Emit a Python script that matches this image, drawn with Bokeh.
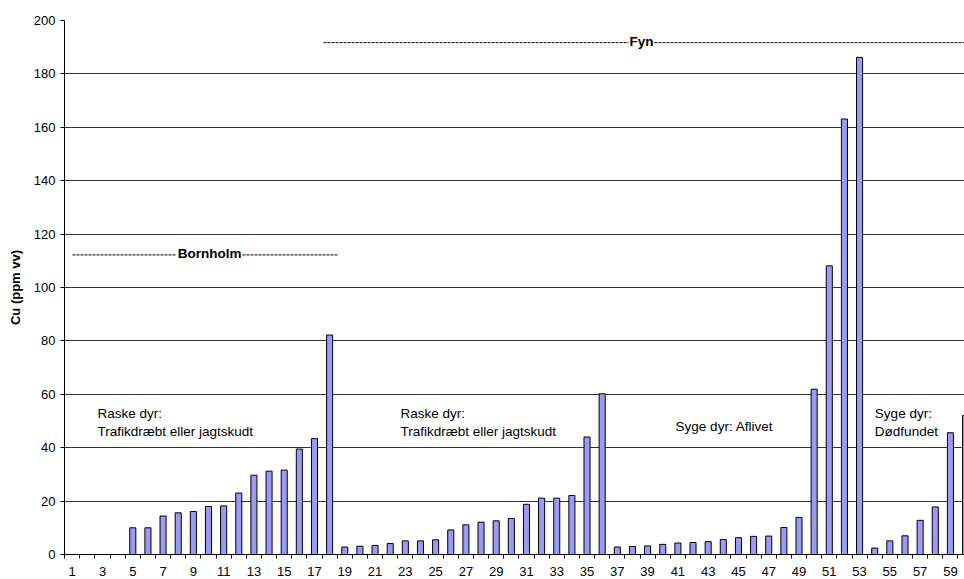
from bokeh.plotting import figure
from bokeh.models import FixedTicker, Range1d, ColumnDataSource
from bokeh.core.properties import value
from bokeh.embed import file_html
from bokeh.resources import INLINE

# ---- data ----
samples = list(range(1, 61))
cu_ppm = [0, 0, 0, 0, 10.0, 10.0, 14.4, 15.6, 16.1, 18.0, 18.2, 23.0, 29.7, 31.2, 31.6, 39.5, 43.4, 82.2,
          2.8, 3.1, 3.4, 4.1, 5.1, 5.1, 5.5, 9.2, 11.1, 12.1, 12.6, 13.5, 18.8, 21.1, 21.1, 22.1, 44.0, 60.2,
          2.8, 3.0, 3.2, 3.8, 4.3, 4.5, 4.8, 5.6, 6.3, 6.8, 6.9, 10.1, 13.9, 61.9, 108.1, 163.1, 186.2,
          2.4, 5.1, 7.0, 12.8, 17.8, 45.6, 52.1]
x_tick_labels = list(range(1, 60, 2))
y_ticks = list(range(0, 201, 20))
region_labels = ["Bornholm", "Fyn"]
group_labels = [["Raske dyr:", "Trafikdræbt eller jagtskudt"],
                ["Raske dyr:", "Trafikdræbt eller jagtskudt"],
                ["Syge dyr: Aflivet"],
                ["Syge dyr:", "Dødfundet"]]
y_label = "Cu (ppm vv)"

FONT = "Liberation Sans"

p = figure(width=964, height=579, output_backend="svg", toolbar_location=None,
           x_range=Range1d(0.49, 59.93), y_range=Range1d(0, 200),
           min_border_left=64, min_border_right=0, min_border_top=20, min_border_bottom=25)
p.outline_line_color = None
p.background_fill_color = "white"
p.border_fill_color = "white"

src = ColumnDataSource(dict(x=samples, top=cu_ppm))
p.vbar(x="x", top="top", width=0.4, source=src, fill_color="#9999FF",
       line_color="black", line_width=1)

# axes
p.xgrid.grid_line_color = None
p.ygrid.grid_line_color = "#333333"
p.ygrid.grid_line_width = 1

xa = p.xaxis[0]
xa.ticker = FixedTicker(ticks=x_tick_labels, minor_ticks=[i + 0.5 for i in range(0, 61)])
xa.major_tick_line_color = None
xa.minor_tick_line_color = "black"
xa.minor_tick_out = 4
xa.minor_tick_in = 0
xa.axis_line_color = "black"
xa.major_label_standoff = 6
xa.major_label_text_font = FONT
xa.major_label_text_font_size = "13px"
xa.major_label_text_color = "black"

ya = p.yaxis[0]
ya.ticker = FixedTicker(ticks=y_ticks)
ya.minor_tick_line_color = None
ya.major_tick_out = 4
ya.major_tick_in = 0
ya.major_tick_line_color = "black"
ya.axis_line_color = "black"
ya.major_label_standoff = 5
ya.major_label_text_font = FONT
ya.major_label_text_font_size = "13px"
ya.major_label_text_color = "black"
ya.axis_label = y_label
ya.axis_label_text_font = FONT
ya.axis_label_text_font_size = "13px"
ya.axis_label_text_font_style = "bold"
ya.axis_label_text_color = "black"
ya.axis_label_standoff = 8

# region dashed lines with bold labels
dash_y = [112.2, 191.7]
label_y = [112.7, 192.2]
dash_segments = [[(1.02, 7.85), (12.25, 18.52)], [(17.6, 37.75), (39.45, 61.0)]]
label_x = [10.07, 38.6]
for name, yy, ly, segs, lx in zip(region_labels, dash_y, label_y, dash_segments, label_x):
    for (a, b) in segs:
        p.segment(x0=a, y0=yy, x1=b, y1=yy, line_color="black", line_width=1, line_dash="3 1")
    p.text(x=[lx], y=[ly], text=[name], text_font=value(FONT), text_font_size="13.5px",
           text_font_style="bold", text_align="center", text_baseline="middle", text_color="black")

# group annotations
group_x = [2.67, 22.68, 40.85, 54.01]
line_y = [52.9, 46.1]
for lines, gx in zip(group_labels, group_x):
    ys = [48.0] if len(lines) == 1 else line_y
    for t, yy in zip(lines, ys):
        p.text(x=[gx], y=[yy], text=[t], text_font=value(FONT), text_font_size="13.5px",
               text_align="left", text_baseline="middle", text_color="black")

open("out.html", "w").write(file_html(p, INLINE))
